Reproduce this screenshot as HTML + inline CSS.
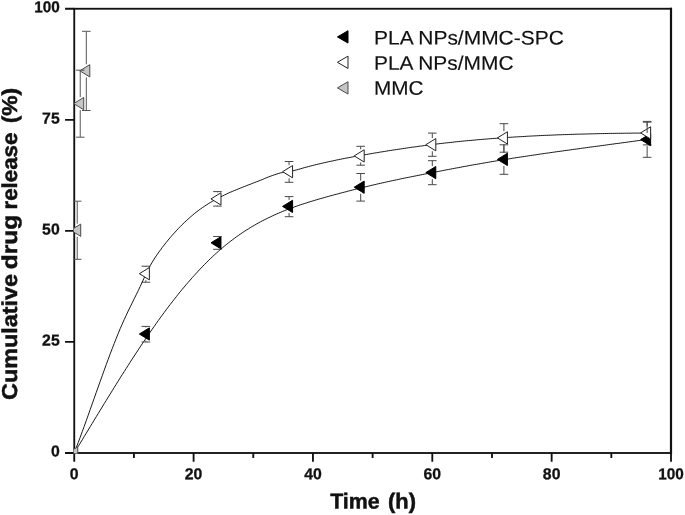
<!DOCTYPE html><html><head><meta charset="utf-8"><title>Cumulative drug release</title><style>html,body{margin:0;padding:0;background:#fff}svg{display:block;text-rendering:geometricPrecision}text{text-rendering:geometricPrecision;font-family:"Liberation Sans",sans-serif;fill:#111}</style></head><body>
<svg width="685" height="515" viewBox="0 0 685 515">
<rect width="685" height="515" fill="#fff"/>
<defs><clipPath id="plot"><rect x="73.65" y="8.75" width="597.35" height="444.65"/></clipPath></defs>
<rect x="74.25" y="8.75" width="596.75" height="444.25" fill="none" stroke="#111" stroke-width="1.85"/>
<path d="M671.00,7.85 V453.90" stroke="#111" stroke-width="2.2" fill="none"/>
<path d="M74.25,453.00 v8.70 M133.93,453.00 v5.00 M193.60,453.00 v8.70 M253.28,453.00 v5.00 M312.95,453.00 v8.70 M372.62,453.00 v5.00 M432.30,453.00 v8.70 M491.98,453.00 v5.00 M551.65,453.00 v8.70 M611.33,453.00 v5.00 M671.00,453.00 v8.70 M74.25,453.00 h-9.20 M74.25,341.94 h-9.20 M74.25,230.88 h-9.20 M74.25,119.81 h-9.20 M74.25,8.75 h-9.20" stroke="#111" stroke-width="1.85" fill="none"/>
<g clip-path="url(#plot)">
<path d="M74.2,453.0 L76.2,449.7 L78.2,446.4 L80.2,443.2 L82.2,439.9 L84.2,436.6 L86.2,433.3 L88.2,430.0 L90.2,426.7 L92.2,423.4 L94.2,420.1 L96.2,416.8 L98.2,413.6 L100.2,410.3 L102.2,407.0 L104.2,403.7 L106.2,400.5 L108.2,397.2 L110.2,394.0 L112.2,390.8 L114.2,387.5 L116.2,384.3 L118.2,381.1 L120.2,377.9 L122.2,374.7 L124.2,371.6 L126.2,368.4 L128.2,365.3 L130.2,362.2 L132.2,359.1 L134.2,356.0 L136.2,352.9 L138.2,349.9 L140.2,346.9 L142.2,343.9 L144.2,340.9 L146.2,337.9 L148.2,335.0 L150.2,332.1 L152.2,329.2 L154.2,326.4 L156.2,323.5 L158.2,320.7 L160.2,317.9 L162.2,315.2 L164.2,312.5 L166.2,309.8 L168.2,307.1 L170.2,304.5 L172.2,301.9 L174.2,299.4 L176.2,296.8 L178.2,294.3 L180.2,291.8 L182.2,289.4 L184.2,287.0 L186.2,284.6 L188.2,282.3 L190.2,280.0 L192.2,277.7 L194.2,275.5 L196.2,273.3 L198.2,271.1 L200.2,269.0 L202.2,266.9 L204.2,264.8 L206.2,262.8 L208.2,260.8 L210.2,258.9 L212.2,257.0 L214.2,255.1 L216.2,253.3 L218.2,251.5 L220.2,249.7 L222.2,248.0 L224.2,246.3 L226.2,244.7 L228.2,243.1 L230.2,241.5 L232.2,240.0 L234.2,238.5 L236.2,237.0 L238.2,235.6 L240.2,234.2 L242.2,232.8 L244.2,231.5 L246.2,230.2 L248.2,229.0 L250.2,227.7 L252.2,226.5 L254.2,225.4 L256.2,224.2 L258.2,223.1 L260.2,222.0 L262.2,220.9 L264.2,219.9 L266.2,218.9 L268.2,217.9 L270.2,217.0 L272.2,216.0 L274.2,215.1 L276.2,214.2 L278.2,213.3 L280.2,212.5 L282.2,211.6 L284.2,210.8 L286.2,210.0 L288.2,209.3 L290.2,208.5 L292.2,207.8 L294.2,207.0 L296.2,206.3 L298.2,205.6 L300.2,204.9 L302.2,204.3 L304.2,203.6 L306.2,203.0 L308.2,202.3 L310.2,201.7 L312.2,201.1 L314.2,200.5 L316.2,199.9 L318.2,199.3 L320.2,198.7 L322.2,198.2 L324.2,197.6 L326.2,197.0 L328.2,196.5 L330.2,195.9 L332.2,195.4 L334.2,194.8 L336.2,194.3 L338.2,193.8 L340.2,193.2 L342.2,192.7 L344.2,192.2 L346.2,191.7 L348.2,191.1 L350.2,190.6 L352.2,190.1 L354.2,189.6 L356.2,189.1 L358.2,188.6 L360.2,188.1 L362.2,187.6 L364.2,187.1 L366.2,186.7 L368.2,186.2 L370.2,185.7 L372.2,185.2 L374.2,184.8 L376.2,184.3 L378.2,183.8 L380.2,183.4 L382.2,182.9 L384.2,182.5 L386.2,182.0 L388.2,181.6 L390.2,181.2 L392.2,180.7 L394.2,180.3 L396.2,179.9 L398.2,179.5 L400.2,179.0 L402.2,178.6 L404.2,178.2 L406.2,177.8 L408.2,177.4 L410.2,177.0 L412.2,176.6 L414.2,176.2 L416.2,175.8 L418.2,175.4 L420.2,175.0 L422.2,174.6 L424.2,174.2 L426.2,173.8 L428.2,173.4 L430.2,173.0 L432.2,172.6 L434.2,172.2 L436.2,171.9 L438.2,171.5 L440.2,171.1 L442.2,170.7 L444.2,170.3 L446.2,169.9 L448.2,169.5 L450.2,169.2 L452.2,168.8 L454.2,168.4 L456.2,168.0 L458.2,167.7 L460.2,167.3 L462.2,166.9 L464.2,166.5 L466.2,166.2 L468.2,165.8 L470.2,165.4 L472.2,165.1 L474.2,164.7 L476.2,164.4 L478.2,164.0 L480.2,163.7 L482.2,163.3 L484.2,163.0 L486.2,162.6 L488.2,162.3 L490.2,161.9 L492.2,161.6 L494.2,161.3 L496.2,160.9 L498.2,160.6 L500.2,160.3 L502.2,159.9 L504.2,159.6 L506.2,159.3 L508.2,159.0 L510.2,158.7 L512.2,158.3 L514.2,158.0 L516.2,157.7 L518.2,157.4 L520.2,157.1 L522.2,156.8 L524.2,156.5 L526.2,156.2 L528.2,155.9 L530.2,155.6 L532.2,155.3 L534.2,155.0 L536.2,154.7 L538.2,154.4 L540.2,154.1 L542.2,153.8 L544.2,153.5 L546.2,153.2 L548.2,153.0 L550.2,152.7 L552.2,152.4 L554.2,152.1 L556.2,151.8 L558.2,151.5 L560.2,151.3 L562.2,151.0 L564.2,150.7 L566.2,150.4 L568.2,150.2 L570.2,149.9 L572.2,149.6 L574.2,149.3 L576.2,149.1 L578.2,148.8 L580.2,148.5 L582.2,148.2 L584.2,148.0 L586.2,147.7 L588.2,147.4 L590.2,147.1 L592.2,146.9 L594.2,146.6 L596.2,146.3 L598.2,146.1 L600.2,145.8 L602.2,145.5 L604.2,145.3 L606.2,145.0 L608.2,144.7 L610.2,144.4 L612.2,144.2 L614.2,143.9 L616.2,143.6 L618.2,143.4 L620.2,143.1 L622.2,142.8 L624.2,142.6 L626.2,142.3 L628.2,142.0 L630.2,141.7 L632.2,141.5 L634.2,141.2 L636.2,140.9 L638.2,140.6 L640.2,140.4 L642.2,140.1 L644.2,139.8 L646.2,139.5 L647.1,139.4" fill="none" stroke="#1a1a1a" stroke-width="1"/>
<path d="M145.86,266.20 V267.15 M145.86,280.25 V282.20 M141.56,266.20 H150.16 M141.56,282.20 H150.16" stroke="#484848" stroke-width="1" fill="none"/>
<path d="M217.47,191.60 V192.35 M217.47,205.45 V206.10 M213.17,191.60 H221.77 M213.17,206.10 H221.77" stroke="#484848" stroke-width="1" fill="none"/>
<path d="M289.08,161.50 V165.15 M289.08,178.25 V182.30 M284.78,161.50 H293.38 M284.78,182.30 H293.38" stroke="#484848" stroke-width="1" fill="none"/>
<path d="M360.69,146.30 V149.35 M360.69,162.45 V165.20 M356.39,146.30 H364.99 M356.39,165.20 H364.99" stroke="#484848" stroke-width="1" fill="none"/>
<path d="M432.30,133.10 V138.15 M432.30,151.25 V156.30 M428.00,133.10 H436.60 M428.00,156.30 H436.60" stroke="#484848" stroke-width="1" fill="none"/>
<path d="M503.91,123.70 V131.35 M503.91,144.45 V152.20 M499.61,123.70 H508.21 M499.61,152.20 H508.21" stroke="#484848" stroke-width="1" fill="none"/>
<path d="M647.13,121.40 V126.35 M647.13,139.45 V144.90 M642.83,121.40 H651.43 M642.83,144.90 H651.43" stroke="#484848" stroke-width="1" fill="none"/>
<path d="M139.36,334.00 L149.36,327.85 L149.36,340.15 Z" fill="#000" stroke="#000" stroke-width="1" stroke-linejoin="miter"/>
<path d="M210.97,242.80 L220.97,236.65 L220.97,248.95 Z" fill="#000" stroke="#000" stroke-width="1" stroke-linejoin="miter"/>
<path d="M282.58,206.40 L292.58,200.25 L292.58,212.55 Z" fill="#000" stroke="#000" stroke-width="1" stroke-linejoin="miter"/>
<path d="M354.19,187.20 L364.19,181.05 L364.19,193.35 Z" fill="#000" stroke="#000" stroke-width="1" stroke-linejoin="miter"/>
<path d="M425.80,172.60 L435.80,166.45 L435.80,178.75 Z" fill="#000" stroke="#000" stroke-width="1" stroke-linejoin="miter"/>
<path d="M497.41,159.40 L507.41,153.25 L507.41,165.55 Z" fill="#000" stroke="#000" stroke-width="1" stroke-linejoin="miter"/>
<path d="M640.63,139.60 L650.63,133.45 L650.63,145.75 Z" fill="#000" stroke="#000" stroke-width="1" stroke-linejoin="miter"/>
<path d="M74.2,453.0 L76.2,447.8 L78.2,442.6 L80.2,437.3 L82.2,431.8 L84.2,426.4 L86.2,420.8 L88.2,415.2 L90.2,409.6 L92.2,403.9 L94.2,398.3 L96.2,392.6 L98.2,387.0 L100.2,381.4 L102.2,375.8 L104.2,370.2 L106.2,364.7 L108.2,359.3 L110.2,353.9 L112.2,348.7 L114.2,343.5 L116.2,338.5 L118.2,333.5 L120.2,328.7 L122.2,324.1 L124.2,319.6 L126.2,315.3 L128.2,311.0 L130.2,306.9 L132.2,302.9 L134.2,298.8 L136.2,294.8 L138.2,290.7 L140.2,286.5 L142.2,282.2 L144.2,277.8 L146.2,273.4 L148.2,269.4 L150.2,265.7 L152.2,262.2 L154.2,259.0 L156.2,255.9 L158.2,253.0 L160.2,250.3 L162.2,247.6 L164.2,245.0 L166.2,242.5 L168.2,240.0 L170.2,237.6 L172.2,235.3 L174.2,233.1 L176.2,230.9 L178.2,228.7 L180.2,226.6 L182.2,224.6 L184.2,222.7 L186.2,220.8 L188.2,219.0 L190.2,217.2 L192.2,215.5 L194.2,213.8 L196.2,212.2 L198.2,210.7 L200.2,209.2 L202.2,207.8 L204.2,206.4 L206.2,205.1 L208.2,203.8 L210.2,202.6 L212.2,201.4 L214.2,200.3 L216.2,199.2 L218.2,198.1 L220.2,197.1 L222.2,196.1 L224.2,195.1 L226.2,194.2 L228.2,193.2 L230.2,192.3 L232.2,191.5 L234.2,190.6 L236.2,189.8 L238.2,189.0 L240.2,188.2 L242.2,187.4 L244.2,186.6 L246.2,185.8 L248.2,185.0 L250.2,184.3 L252.2,183.5 L254.2,182.7 L256.2,181.9 L258.2,181.2 L260.2,180.4 L262.2,179.6 L264.2,178.7 L266.2,177.9 L268.2,177.1 L270.2,176.3 L272.2,175.6 L274.2,174.9 L276.2,174.2 L278.2,173.6 L280.2,173.0 L282.2,172.6 L284.2,172.2 L286.2,171.9 L288.2,171.6 L290.2,171.3 L292.2,170.9 L294.2,170.5 L296.2,170.0 L298.2,169.4 L300.2,168.9 L302.2,168.3 L304.2,167.7 L306.2,167.2 L308.2,166.7 L310.2,166.1 L312.2,165.6 L314.2,165.1 L316.2,164.6 L318.2,164.1 L320.2,163.7 L322.2,163.2 L324.2,162.7 L326.2,162.3 L328.2,161.8 L330.2,161.4 L332.2,161.0 L334.2,160.6 L336.2,160.1 L338.2,159.7 L340.2,159.3 L342.2,158.9 L344.2,158.5 L346.2,158.1 L348.2,157.8 L350.2,157.4 L352.2,157.0 L354.2,156.6 L356.2,156.3 L358.2,155.9 L360.2,155.6 L362.2,155.2 L364.2,154.9 L366.2,154.5 L368.2,154.2 L370.2,153.8 L372.2,153.5 L374.2,153.1 L376.2,152.8 L378.2,152.5 L380.2,152.1 L382.2,151.8 L384.2,151.5 L386.2,151.2 L388.2,150.8 L390.2,150.5 L392.2,150.2 L394.2,149.9 L396.2,149.6 L398.2,149.3 L400.2,149.0 L402.2,148.7 L404.2,148.4 L406.2,148.1 L408.2,147.8 L410.2,147.5 L412.2,147.2 L414.2,147.0 L416.2,146.7 L418.2,146.4 L420.2,146.1 L422.2,145.9 L424.2,145.6 L426.2,145.3 L428.2,145.1 L430.2,144.8 L432.2,144.6 L434.2,144.3 L436.2,144.1 L438.2,143.8 L440.2,143.6 L442.2,143.4 L444.2,143.1 L446.2,142.9 L448.2,142.7 L450.2,142.5 L452.2,142.3 L454.2,142.0 L456.2,141.8 L458.2,141.6 L460.2,141.4 L462.2,141.2 L464.2,141.0 L466.2,140.8 L468.2,140.6 L470.2,140.5 L472.2,140.3 L474.2,140.1 L476.2,139.9 L478.2,139.7 L480.2,139.6 L482.2,139.4 L484.2,139.2 L486.2,139.1 L488.2,138.9 L490.2,138.7 L492.2,138.6 L494.2,138.4 L496.2,138.3 L498.2,138.1 L500.2,138.0 L502.2,137.8 L504.2,137.7 L506.2,137.6 L508.2,137.4 L510.2,137.3 L512.2,137.2 L514.2,137.0 L516.2,136.9 L518.2,136.8 L520.2,136.7 L522.2,136.6 L524.2,136.5 L526.2,136.3 L528.2,136.2 L530.2,136.1 L532.2,136.0 L534.2,135.9 L536.2,135.8 L538.2,135.7 L540.2,135.6 L542.2,135.5 L544.2,135.4 L546.2,135.3 L548.2,135.3 L550.2,135.2 L552.2,135.1 L554.2,135.0 L556.2,134.9 L558.2,134.8 L560.2,134.8 L562.2,134.7 L564.2,134.6 L566.2,134.6 L568.2,134.5 L570.2,134.4 L572.2,134.4 L574.2,134.3 L576.2,134.2 L578.2,134.2 L580.2,134.1 L582.2,134.1 L584.2,134.0 L586.2,134.0 L588.2,133.9 L590.2,133.9 L592.2,133.8 L594.2,133.8 L596.2,133.7 L598.2,133.7 L600.2,133.6 L602.2,133.6 L604.2,133.6 L606.2,133.5 L608.2,133.5 L610.2,133.4 L612.2,133.4 L614.2,133.4 L616.2,133.3 L618.2,133.3 L620.2,133.3 L622.2,133.3 L624.2,133.2 L626.2,133.2 L628.2,133.2 L630.2,133.2 L632.2,133.1 L634.2,133.1 L636.2,133.1 L638.2,133.1 L640.2,133.1 L642.2,133.0 L644.2,133.0 L646.2,133.0 L647.1,133.0" fill="none" stroke="#1a1a1a" stroke-width="1"/>
<path d="M139.36,273.70 L149.36,267.55 L149.36,279.85 Z" fill="#fff" stroke="#222" stroke-width="1" stroke-linejoin="miter"/>
<path d="M210.97,198.90 L220.97,192.75 L220.97,205.05 Z" fill="#fff" stroke="#222" stroke-width="1" stroke-linejoin="miter"/>
<path d="M282.58,171.70 L292.58,165.55 L292.58,177.85 Z" fill="#fff" stroke="#222" stroke-width="1" stroke-linejoin="miter"/>
<path d="M354.19,155.90 L364.19,149.75 L364.19,162.05 Z" fill="#fff" stroke="#222" stroke-width="1" stroke-linejoin="miter"/>
<path d="M425.80,144.70 L435.80,138.55 L435.80,150.85 Z" fill="#fff" stroke="#222" stroke-width="1" stroke-linejoin="miter"/>
<path d="M497.41,137.90 L507.41,131.75 L507.41,144.05 Z" fill="#fff" stroke="#222" stroke-width="1" stroke-linejoin="miter"/>
<path d="M640.63,132.90 L650.63,126.75 L650.63,139.05 Z" fill="#fff" stroke="#222" stroke-width="1" stroke-linejoin="miter"/>
<path d="M67.75,453.00 L77.75,446.85 L77.75,459.15 Z" fill="#c6c6c6" stroke="#4a4a4a" stroke-width="1" stroke-linejoin="miter"/>
<path d="M70.73,230.20 L80.73,224.05 L80.73,236.35 Z" fill="#c6c6c6" stroke="#4a4a4a" stroke-width="1" stroke-linejoin="miter"/>
<path d="M73.72,103.60 L83.72,97.45 L83.72,109.75 Z" fill="#c6c6c6" stroke="#4a4a4a" stroke-width="1" stroke-linejoin="miter"/>
<path d="M79.80,70.80 L89.80,64.65 L89.80,76.95 Z" fill="#c6c6c6" stroke="#4a4a4a" stroke-width="1" stroke-linejoin="miter"/>
<path d="M145.86,326.40 V327.45 M145.86,340.55 V342.00 M141.56,326.40 H150.16 M141.56,342.00 H150.16" stroke="#484848" stroke-width="1" fill="none"/>
<path d="M213.17,236.50 H221.77 M213.17,249.30 H221.77" stroke="#484848" stroke-width="1" fill="none"/>
<path d="M289.08,196.60 V199.85 M289.08,212.95 V216.70 M284.78,196.60 H293.38 M284.78,216.70 H293.38" stroke="#484848" stroke-width="1" fill="none"/>
<path d="M360.69,173.50 V180.65 M360.69,193.75 V201.10 M356.39,173.50 H364.99 M356.39,201.10 H364.99" stroke="#484848" stroke-width="1" fill="none"/>
<path d="M432.30,160.70 V166.05 M432.30,179.15 V184.70 M428.00,160.70 H436.60 M428.00,184.70 H436.60" stroke="#484848" stroke-width="1" fill="none"/>
<path d="M503.91,144.80 V152.85 M503.91,165.95 V174.30 M499.61,144.80 H508.21 M499.61,174.30 H508.21" stroke="#484848" stroke-width="1" fill="none"/>
<path d="M647.13,122.20 V133.05 M647.13,146.15 V157.30 M642.83,122.20 H651.43 M642.83,157.30 H651.43" stroke="#484848" stroke-width="1" fill="none"/>
<path d="M77.23,201.20 V223.65 M77.23,236.75 V259.30 M72.93,201.20 H81.53 M72.93,259.30 H81.53" stroke="#565656" stroke-width="1" fill="none"/>
<path d="M80.22,70.20 V97.05 M80.22,110.15 V137.20 M75.92,70.20 H84.52 M75.92,137.20 H84.52" stroke="#565656" stroke-width="1" fill="none"/>
<path d="M86.30,31.30 V64.25 M86.30,77.35 V110.50 M82.00,31.30 H90.60 M82.00,110.50 H90.60" stroke="#565656" stroke-width="1" fill="none"/>
</g>
<text transform="translate(74.25,479.3) rotate(0.05) scale(1,1)" font-size="15.8" font-weight="bold" text-anchor="middle" stroke="#111" stroke-width="0.3">0</text>
<text transform="translate(193.60,479.3) rotate(0.05) scale(1,1)" font-size="15.8" font-weight="bold" text-anchor="middle" stroke="#111" stroke-width="0.3">20</text>
<text transform="translate(312.95,479.3) rotate(0.05) scale(1,1)" font-size="15.8" font-weight="bold" text-anchor="middle" stroke="#111" stroke-width="0.3">40</text>
<text transform="translate(432.30,479.3) rotate(0.05) scale(1,1)" font-size="15.8" font-weight="bold" text-anchor="middle" stroke="#111" stroke-width="0.3">60</text>
<text transform="translate(551.65,479.3) rotate(0.05) scale(1,1)" font-size="15.8" font-weight="bold" text-anchor="middle" stroke="#111" stroke-width="0.3">80</text>
<text transform="translate(671.00,479.3) rotate(0.05) scale(0.97,1)" font-size="15.8" font-weight="bold" text-anchor="middle" stroke="#111" stroke-width="0.3">100</text>
<text transform="translate(59.7,456.60) rotate(0.05) scale(1,1)" font-size="15.8" font-weight="bold" text-anchor="end" stroke="#111" stroke-width="0.3">0</text>
<text transform="translate(59.7,345.54) rotate(0.05) scale(1,1)" font-size="15.8" font-weight="bold" text-anchor="end" stroke="#111" stroke-width="0.3">25</text>
<text transform="translate(59.7,234.47) rotate(0.05) scale(1,1)" font-size="15.8" font-weight="bold" text-anchor="end" stroke="#111" stroke-width="0.3">50</text>
<text transform="translate(59.7,123.41) rotate(0.05) scale(1,1)" font-size="15.8" font-weight="bold" text-anchor="end" stroke="#111" stroke-width="0.3">75</text>
<text transform="translate(59.7,12.35) rotate(0.05) scale(0.97,1)" font-size="15.8" font-weight="bold" text-anchor="end" stroke="#111" stroke-width="0.3">100</text>
<text transform="translate(330.19,508.5) rotate(0.05) scale(0.9891,1)" font-size="21.6" font-weight="bold" stroke="#111" stroke-width="0.5">Time</text>
<text transform="translate(388.01,508.5) rotate(0.05) scale(1.0122,1)" font-size="21.6" font-weight="bold" stroke="#111" stroke-width="0.5">(h)</text>
<text transform="translate(17.3,399.93) rotate(-90) scale(1.0859,1)" font-size="21.5" font-weight="bold" stroke="#111" stroke-width="0.5">Cumulative</text>
<text transform="translate(17.3,269.18) rotate(-90) scale(1.1374,1)" font-size="21.5" font-weight="bold" stroke="#111" stroke-width="0.5">drug</text>
<text transform="translate(17.3,209.46) rotate(-90) scale(1.0361,1)" font-size="21.5" font-weight="bold" stroke="#111" stroke-width="0.5">release</text>
<text transform="translate(17.3,123.34) rotate(-90) scale(1.0577,1)" font-size="21.5" font-weight="bold" stroke="#111" stroke-width="0.5">(%)</text>
<path d="M337.40,36.90 L348.00,30.75 L348.00,43.05 Z" fill="#000" stroke="#000" stroke-width="1" stroke-linejoin="miter"/>
<text transform="translate(374.0,44.40) rotate(0.03)" font-size="19.7" stroke="#111" stroke-width="0.15" textLength="189.8" lengthAdjust="spacingAndGlyphs">PLA NPs/MMC-SPC</text>
<path d="M337.40,62.30 L348.00,56.15 L348.00,68.45 Z" fill="#fff" stroke="#222" stroke-width="1" stroke-linejoin="miter"/>
<text transform="translate(374.0,69.80) rotate(0.03)" font-size="19.7" stroke="#111" stroke-width="0.15" textLength="139.5" lengthAdjust="spacingAndGlyphs">PLA NPs/MMC</text>
<path d="M337.40,87.90 L348.00,81.75 L348.00,94.05 Z" fill="#c6c6c6" stroke="#4a4a4a" stroke-width="1" stroke-linejoin="miter"/>
<text transform="translate(374.0,94.85) rotate(0.03)" font-size="19.7" stroke="#111" stroke-width="0.15" textLength="49.5" lengthAdjust="spacingAndGlyphs">MMC</text>
</svg></body></html>
